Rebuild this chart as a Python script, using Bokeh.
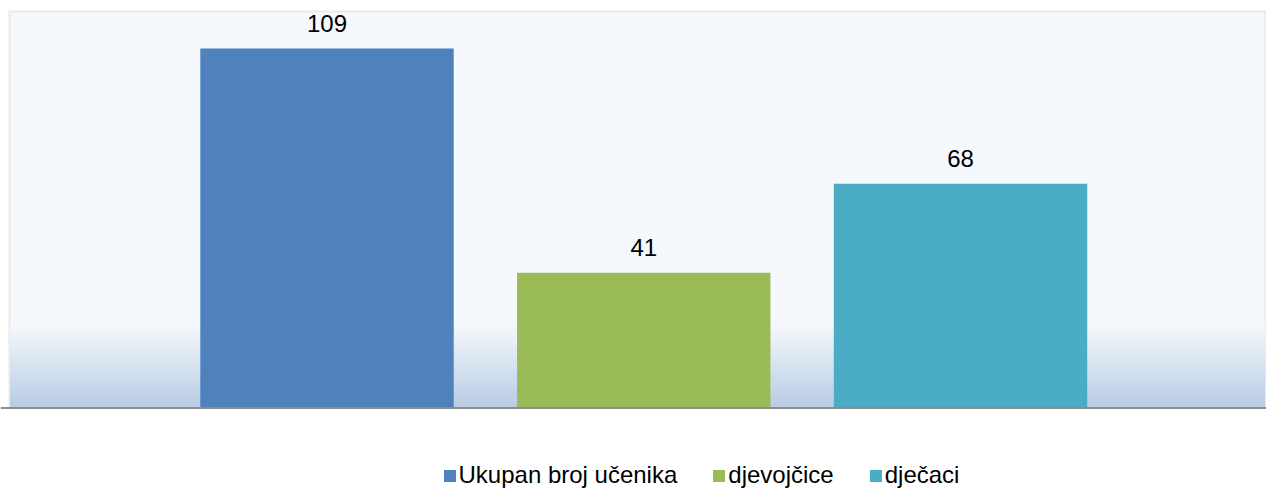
from bokeh.plotting import figure
from bokeh.models import ColumnDataSource, Range1d, Span, Legend, LegendItem
from bokeh.embed import file_html
from bokeh.resources import INLINE
from bokeh.core.properties import value

# ---- data ----
categories = ["Ukupan broj učenika", "djevojčice", "dječaci"]
counts = [109, 41, 68]
colors = ["#4F81BD", "#9BBB59", "#4BACC6"]

positions = list(range(1, len(categories) + 1))
src = ColumnDataSource(dict(x=positions, top=counts, cat=categories, color=colors,
                            label=[str(v) for v in counts]))

FONT = "Liberation Sans"

p = figure(width=1266, height=489, output_backend="svg", toolbar_location=None,
           x_range=Range1d(-0.0308, 3.966), y_range=Range1d(-24.71, 123.56),
           min_border=0)
p.xaxis.visible = False
p.yaxis.visible = False
p.xgrid.visible = False
p.ygrid.visible = False
p.background_fill_color = "white"
p.border_fill_color = "white"
p.outline_line_color = None

# plot-area panel (style only)
p.quad(left=-0.0024, right=3.963, bottom=0, top=120.2, fill_color="#F5F8FC",
       line_color="#EAEAEA", line_width=2)

# bottom gradient band (style only)
n = 82
y_top = 25.0
tops, bottoms, fills = [], [], []
c0 = (245, 248, 252)
c1 = (184, 204, 228)
for i in range(n):
    t = (i + 0.5) / n
    r = round(c0[0] + (c1[0] - c0[0]) * t)
    g = round(c0[1] + (c1[1] - c0[1]) * t)
    b = round(c0[2] + (c1[2] - c0[2]) * t)
    tops.append(y_top * (1 - i / n))
    bottoms.append(y_top * (1 - (i + 1) / n))
    fills.append("#%02x%02x%02x" % (r, g, b))
p.quad(left=0.001, right=3.96, top=tops, bottom=bottoms, fill_color=fills, line_color=fills,
       line_width=1)

bars = p.vbar(x="x", top="top", width=0.8, bottom=0, source=src,
              fill_color="color", line_color=None)

p.text(x="x", y="top", text="label", source=src, y_offset=-25,
       text_align="center", text_baseline="alphabetic",
       text_font=value(FONT), text_font_size="24px", text_color="#000000")

p.add_layout(Span(location=0, dimension="width", line_color="#8C8C8C", line_width=2))

legend = Legend(items=[LegendItem(label=c, renderers=[bars], index=i)
                       for i, c in enumerate(categories)],
                orientation="horizontal", location=(441.5, 0),
                glyph_width=15, glyph_height=15, label_standoff=2, spacing=34,
                padding=0, margin=0, border_line_color=None,
                background_fill_alpha=0,
                label_text_font=FONT, label_text_font_size="24px",
                label_text_color="#000000")
p.add_layout(legend, "center")

open("out.html", "w").write(file_html(p, INLINE))
